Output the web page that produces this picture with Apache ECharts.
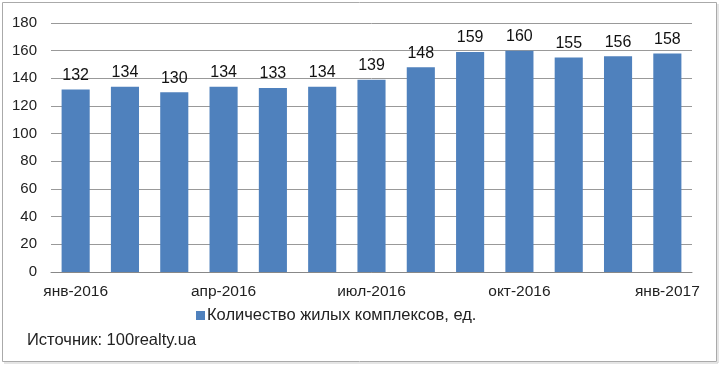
<!DOCTYPE html>
<html><head><meta charset="utf-8">
<script src="https://cdn.jsdelivr.net/npm/echarts@6/dist/echarts.min.js"></script>
<style>html,body{margin:0;padding:0;background:#fff}#c{width:720px;height:365px}</style>
</head><body><div id="c"></div>
<script>
const categories = ['янв-2016','фев-2016','мар-2016','апр-2016','май-2016','июн-2016','июл-2016','авг-2016','сен-2016','окт-2016','ноя-2016','дек-2016','янв-2017'];
const values = [132,134,130,134,133,134,139,148,159,160,155,156,158];
const seriesName = 'Количество жилых комплексов, ед.';
const sourceText = 'Источник: 100realty.ua';

const chart = echarts.init(document.getElementById('c'));
const font = '"Liberation Sans", Arial, sans-serif';
chart.setOption({
  animation: false,
  textStyle: {fontFamily: font},
  grid: {left: 51, right: 28, top: 23, bottom: 93},
  xAxis: {
    type: 'category', data: categories,
    axisTick: {show: false},
    axisLine: {lineStyle: {color: '#888', width: 1}},
    axisLabel: {interval: 2, color: '#222', fontSize: 15.5, fontFamily: font, margin: 12}
  },
  yAxis: {
    type: 'value', min: 0, max: 180, interval: 20,
    axisLine: {show: false}, axisTick: {show: false},
    axisLabel: {color: '#222', fontSize: 15, fontFamily: font, margin: 14},
    splitLine: {lineStyle: {color: '#999', width: 1}}
  },
  legend: {
    bottom: 36, left: 191,
    itemWidth: 9, itemHeight: 9, itemGap: 4,
    icon: 'rect',
    textStyle: {fontSize: 16.5, color: '#222', fontFamily: font, padding: [0,0,0,-3]},
    data: [seriesName]
  },
  series: [{
    name: seriesName, type: 'bar', data: values,
    barWidth: '57%',
    itemStyle: {color: '#4f81bd'},
    label: {show: true, position: 'top', color: '#111', fontSize: 16, fontFamily: font, distance: 6}
  }],
  graphic: [
    {type: 'rect', shape: {x: 2.5, y: 2.5, width: 714, height: 359}, style: {fill: 'none', stroke: '#aaa', lineWidth: 1}},
    {type: 'rect', shape: {x: 4, y: 362.5, width: 714, height: 1}, style: {fill: '#ccc'}},
    {type: 'rect', shape: {x: 717.5, y: 4, width: 1, height: 359}, style: {fill: '#ccc'}},
    {type: 'text', left: 27, top: 332, style: {text: sourceText, fontSize: 16.5, fill: '#222', fontFamily: font}}
  ]
});
</script></body></html>
